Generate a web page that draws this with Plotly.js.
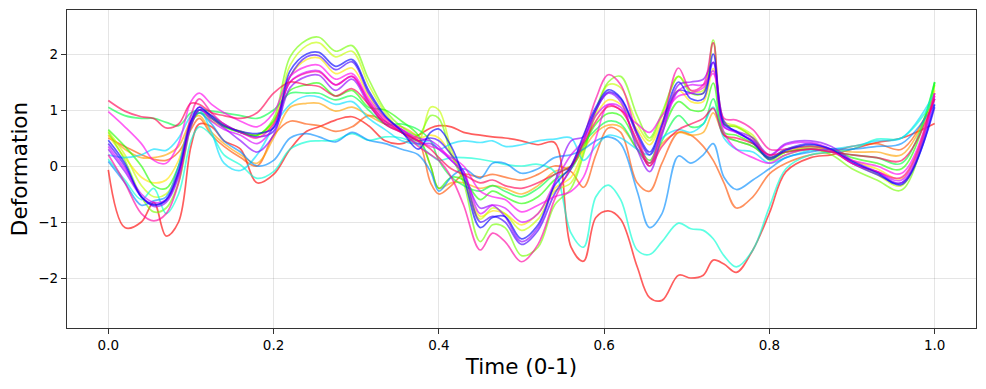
<!DOCTYPE html>
<html>
<head>
<meta charset="utf-8">
<script src="https://cdn.plot.ly/plotly-3.0.1.min.js"></script>
<style>html,body{margin:0;padding:0;background:#fff;}#chart{width:986px;height:389px;}</style>
</head>
<body>
<div id="chart"></div>
<script>
// Shared time grid (0-1)
const timeGrid = [0,0.02,0.04,0.055,0.07,0.085,0.1,0.11,0.125,0.14,
  0.16,0.18,0.2,0.22,0.24,0.255,0.275,0.295,0.315,0.335,
  0.355,0.375,0.39,0.4,0.415,0.43,0.45,0.465,0.48,0.5,
  0.52,0.54,0.56,0.575,0.59,0.605,0.62,0.64,0.655,0.67,
  0.69,0.705,0.72,0.732,0.745,0.76,0.78,0.8,0.82,0.85,
  0.875,0.9,0.93,0.96,1.0];

const seriesR  = [-0.07,-1.1,-1.0,-0.65,-1.25,-1.0,0.35,0.75,0.7,0.45, 0.3,-0.3,-0.15,0.3,0.62,0.7,0.82,0.88,0.72,0.45, 0.4,0.55,0.68,0.72,0.7,0.6,0.55,0.52,0.5,0.45, 0.38,0.42,-1.45,-1.7,-0.92,-0.8,-0.95,-1.8,-2.35,-2.4, -1.95,-2.0,-1.95,-1.68,-1.75,-1.9,-1.5,-0.84,-0.1,0.15, 0.2,0.3,0.42,0.5,0.76];
const seriesOR = [0.5,0.35,0.2,0.12,0.1,0.25,0.65,0.85,0.55,0.35, 0.15,0.0,0.55,0.8,0.75,0.72,0.62,0.7,0.9,0.8, 0.6,0.45,-0.3,-0.5,-0.35,-0.15,-0.2,-0.15,-0.2,-0.25, -0.15,0.0,-0.1,-0.38,0.2,0.68,0.6,-0.3,-0.45,0.05, 0.6,0.55,0.35,0.1,-0.3,-0.75,-0.55,-0.14,0.05,0.2, 0.25,0.35,0.4,0.3,1.25];
const seriesO  = [0.55,0.3,0.15,0.15,0.2,0.35,0.8,0.9,0.6,0.4, 0.2,0.05,0.5,1.05,1.12,1.12,0.98,1.05,0.9,0.75, 0.7,0.5,0.0,-0.4,-0.3,-0.3,-0.4,-0.35,-0.4,-0.5, -0.35,-0.1,0.0,0.3,0.6,0.73,0.7,0.3,0.05,0.4, 0.6,0.55,0.6,0.95,0.55,0.45,0.35,0.15,0.25,0.3, 0.3,0.25,0.25,0.2,1.3];
const seriesY  = [0.55,0.15,-0.2,-0.3,-0.25,0.1,0.8,0.95,0.8,0.7, 0.62,0.55,0.75,1.6,1.9,1.93,1.65,1.75,1.25,0.85, 0.65,0.5,0.55,0.5,0.2,-0.2,-0.9,-0.8,-0.85,-1.05, -0.85,-0.4,-0.2,0.3,0.9,1.18,1.1,0.65,0.38,0.8, 1.35,1.15,1.15,1.74,0.75,0.7,0.5,0.15,0.25,0.35, 0.28,0.1,-0.05,-0.22,1.35];
const seriesYG = [0.62,0.2,-0.35,-0.55,-0.5,-0.1,0.75,1.0,0.85,0.72, 0.62,0.55,0.8,1.8,2.15,2.2,1.95,2.05,1.45,0.95, 0.62,0.45,1.05,1.0,0.3,-0.25,-0.95,-0.75,-0.85,-1.15, -0.95,-0.45,-0.3,0.25,0.95,1.45,1.4,0.75,0.45,0.9, 1.6,1.35,1.35,2.2,0.8,0.72,0.55,0.12,0.25,0.32, 0.25,0.05,-0.15,-0.35,1.45];
const seriesL  = [0.6,0.1,-0.55,-0.82,-0.75,-0.3,0.7,1.0,0.9,0.72, 0.6,0.55,0.85,1.95,2.25,2.3,2.05,2.15,1.55,1.0, 0.7,0.55,0.9,0.85,0.2,-0.3,-1.35,-1.05,-1.1,-1.6, -1.45,-0.7,-0.4,0.2,1.0,1.5,1.6,0.9,0.5,0.95, 1.6,1.3,1.3,2.25,0.75,0.7,0.5,0.1,0.2,0.3, 0.2,-0.05,-0.25,-0.43,1.48];
const seriesG  = [0.65,0.35,0.0,-0.35,-0.4,0.0,0.75,0.95,0.85,0.7, 0.6,0.55,0.8,1.35,1.45,1.48,1.25,1.35,1.05,1.0, 0.8,0.55,0.0,-0.4,-0.2,-0.25,-0.6,-0.45,-0.55,-0.67, -0.55,-0.25,-0.05,0.35,0.75,0.94,0.9,0.4,0.1,0.6, 1.15,1.0,1.0,1.48,0.6,0.55,0.4,0.15,0.3,0.35, 0.3,0.15,0.05,-0.05,1.5];
const seriesSG = [1.05,0.9,0.85,0.85,0.78,0.72,0.95,1.0,0.98,0.95, 0.9,0.85,1.0,1.3,1.3,1.3,1.18,1.25,1.0,0.75, 0.75,0.65,0.45,0.1,-0.2,-0.35,-0.45,-0.35,-0.45,-0.55, -0.4,-0.15,0.0,0.4,0.65,0.8,0.75,0.3,0.05,0.45, 0.9,0.7,0.75,1.2,0.55,0.45,0.35,0.15,0.25,0.3, 0.25,0.2,0.15,0.05,1.5];
const seriesT  = [0.12,-0.25,-0.6,-0.4,-0.85,-0.5,0.45,0.7,0.55,0.2, 0.02,-0.22,-0.1,0.3,0.43,0.45,0.46,0.58,0.46,0.52, 0.5,0.38,0.2,0.1,0.15,0.15,0.12,0.08,0.03,0.0, 0.03,-0.1,-1.2,-1.45,-0.55,-0.34,-0.6,-1.5,-1.58,-1.35, -1.02,-1.12,-1.15,-1.3,-1.6,-1.8,-1.5,-0.73,-0.05,0.2, 0.25,0.3,0.48,0.5,1.2];
const seriesCY = [0.2,0.15,0.2,0.3,0.28,0.5,0.9,1.0,0.6,0.05, -0.08,0.2,0.7,1.1,1.25,1.23,1.1,1.15,0.85,0.65, 0.45,0.4,0.45,0.3,0.4,0.45,0.42,0.45,0.35,0.38, 0.45,0.48,0.5,0.1,0.35,0.55,0.5,0.3,0.2,0.5, 0.65,0.6,0.75,1.05,0.5,0.3,0.25,0.05,0.15,0.28, 0.3,0.35,0.45,0.5,1.3];
const seriesLB = [0.08,-0.3,-0.7,-0.62,-0.55,0.0,0.8,0.95,0.75,0.45, 0.25,0.0,0.1,0.5,0.58,0.52,0.43,0.6,0.46,0.4, 0.3,0.2,-0.1,-0.45,-0.2,-0.05,-0.22,0.05,0.05,-0.13, -0.05,0.15,0.2,0.3,0.45,0.52,0.4,-0.45,-1.1,-0.85, 0.18,0.05,0.2,0.4,-0.2,-0.42,-0.25,-0.05,0.15,0.25, 0.3,0.3,0.35,0.4,1.1];
const seriesB  = [0.46,0.05,-0.55,-0.7,-0.6,-0.1,0.8,1.05,0.88,0.72, 0.62,0.58,0.68,1.7,2.0,2.03,1.78,1.9,1.35,0.9, 0.62,0.3,0.6,0.66,0.35,-0.2,-1.1,-0.92,-0.9,-1.3, -1.05,-0.35,0.0,0.55,1.05,1.36,1.22,0.6,0.25,0.75, 1.5,1.2,1.2,2.0,0.75,0.62,0.42,0.12,0.28,0.38, 0.3,0.08,-0.12,-0.33,1.1];
const seriesBV = [0.4,0.0,-0.55,-0.68,-0.62,-0.15,0.75,1.0,0.9,0.75, 0.6,0.52,0.62,1.6,1.95,1.97,1.72,1.86,1.3,0.88, 0.65,0.45,0.5,0.45,0.2,-0.1,-1.0,-0.9,-1.0,-1.4, -1.15,-0.5,-0.05,0.45,1.0,1.32,1.2,0.55,0.2,0.7, 1.35,1.3,1.3,1.85,0.8,0.6,0.45,0.15,0.3,0.4, 0.28,0.05,-0.15,-0.3,1.05];
const seriesP  = [0.3,-0.1,-0.55,-0.72,-0.65,-0.2,0.7,1.0,0.85,0.68, 0.45,0.25,0.55,1.4,1.6,1.62,1.35,1.55,1.1,0.75, 0.6,0.4,0.4,0.3,0.1,-0.15,-0.75,-0.7,-0.9,-1.35, -1.1,-0.3,0.45,0.52,1.0,1.3,1.15,0.3,-0.1,0.55, 1.45,1.5,1.55,1.85,0.7,0.62,0.5,0.2,0.4,0.45, 0.35,0.1,-0.1,-0.3,1.2];
const seriesV  = [0.35,-0.05,-0.5,-0.65,-0.6,-0.1,0.8,1.05,0.8,0.65, 0.55,0.4,0.7,1.5,1.68,1.7,1.45,1.6,1.15,0.8, 0.65,0.5,0.45,0.35,0.1,-0.1,-0.85,-0.7,-0.75,-1.0, -0.85,-0.3,0.2,0.45,0.9,1.1,1.05,0.4,0.0,0.6, 1.35,1.45,1.45,1.7,0.7,0.6,0.45,0.18,0.38,0.42, 0.3,0.05,-0.1,-0.25,1.25];
const seriesM  = [0.97,0.7,0.4,0.1,0.05,0.4,1.15,1.3,1.1,0.95, 0.8,0.7,0.95,1.6,1.78,1.8,1.55,1.65,1.2,0.85, 0.65,0.45,0.35,0.3,0.15,0.0,-0.45,-0.55,-0.6,-0.82, -0.7,-0.55,-0.45,-0.2,0.5,1.09,1.0,0.75,0.6,0.9, 1.25,1.3,1.4,1.65,0.6,0.3,0.15,0.05,0.2,0.3, 0.25,0.1,0.0,-0.13,1.3];
const seriesPK = [0.2,-0.3,-0.85,-0.98,-0.85,-0.3,0.9,1.2,0.95,0.75, 0.6,0.5,0.75,1.5,1.66,1.68,1.45,1.6,1.15,0.8, 0.6,0.35,0.2,0.1,-0.2,-0.7,-1.5,-1.2,-1.35,-1.71, -1.4,-0.6,0.0,0.5,1.2,1.63,1.45,0.55,0.05,0.7, 1.75,1.35,1.45,2.2,0.85,0.82,0.65,0.3,0.3,0.35, 0.28,0.05,-0.1,-0.2,1.3];
const seriesRS = [1.17,0.98,0.88,0.85,0.68,0.75,1.12,1.1,0.95,0.9, 0.85,0.95,1.3,1.5,1.45,1.42,1.25,1.38,1.1,0.75, 0.6,0.45,0.3,0.15,-0.05,-0.15,-0.3,-0.25,-0.35,-0.4, -0.3,-0.15,0.0,0.4,0.8,1.06,1.0,0.45,0.0,0.35, 0.65,0.75,0.85,1.03,0.55,0.5,0.4,0.2,0.25,0.3, 0.25,0.2,0.15,0.1,1.2];

const seriesList = [seriesR, seriesOR, seriesO, seriesY, seriesYG, seriesL, seriesG, seriesSG,
  seriesT, seriesCY, seriesLB, seriesBV, seriesP, seriesV, seriesM, seriesPK, seriesRS, seriesB];
const seriesColors = ['255,0,0','255,81,0','255,162,0','255,230,0','196,255,0','115,255,0','34,255,0','0,255,70',
  '0,255,210','0,221,255','0,140,255','64,0,255','140,0,255','212,0,255','255,0,238','255,0,160','255,0,80','0,0,255'];

const traces = seriesList.map((ys, i) => ({
  x: timeGrid, y: ys, type: 'scatter', mode: 'lines',
  line: {color: 'rgba(' + seriesColors[i] + ',0.63)', width: 1.7, shape: 'spline', smoothing: 1},
  hoverinfo: 'skip', showlegend: false
}));

const axisCommon = {
  showline: true, mirror: true, linecolor: '#333', linewidth: 1.2,
  ticks: 'outside', ticklen: 5, tickcolor: '#333', tickwidth: 1,
  showgrid: true, gridcolor: 'rgba(0,0,0,0.1)', gridwidth: 1,
  zeroline: false, automargin: false,
  tickfont: {family: 'DejaVu Sans', size: 13.5, color: '#000'}
};

const layout = {
  width: 986, height: 389,
  margin: {l: 67, r: 10, t: 10, b: 61},
  paper_bgcolor: '#fff', plot_bgcolor: '#fff',
  xaxis: Object.assign({}, axisCommon, {
    range: [-0.05, 1.05], tickvals: [0, 0.2, 0.4, 0.6, 0.8, 1.0], tickformat: '.1f',
    title: {text: 'Time (0-1)', font: {family: 'DejaVu Sans', size: 21.5, color: '#000'}, standoff: 6}
  }),
  yaxis: Object.assign({}, axisCommon, {
    range: [-2.893, 2.786], tickvals: [-2, -1, 0, 1, 2],
    title: {text: 'Deformation', font: {family: 'DejaVu Sans', size: 21.5, color: '#000'}, standoff: 4}
  })
};

Plotly.newPlot('chart', traces, layout, {staticPlot: true, displayModeBar: false});
</script>
</body>
</html>
